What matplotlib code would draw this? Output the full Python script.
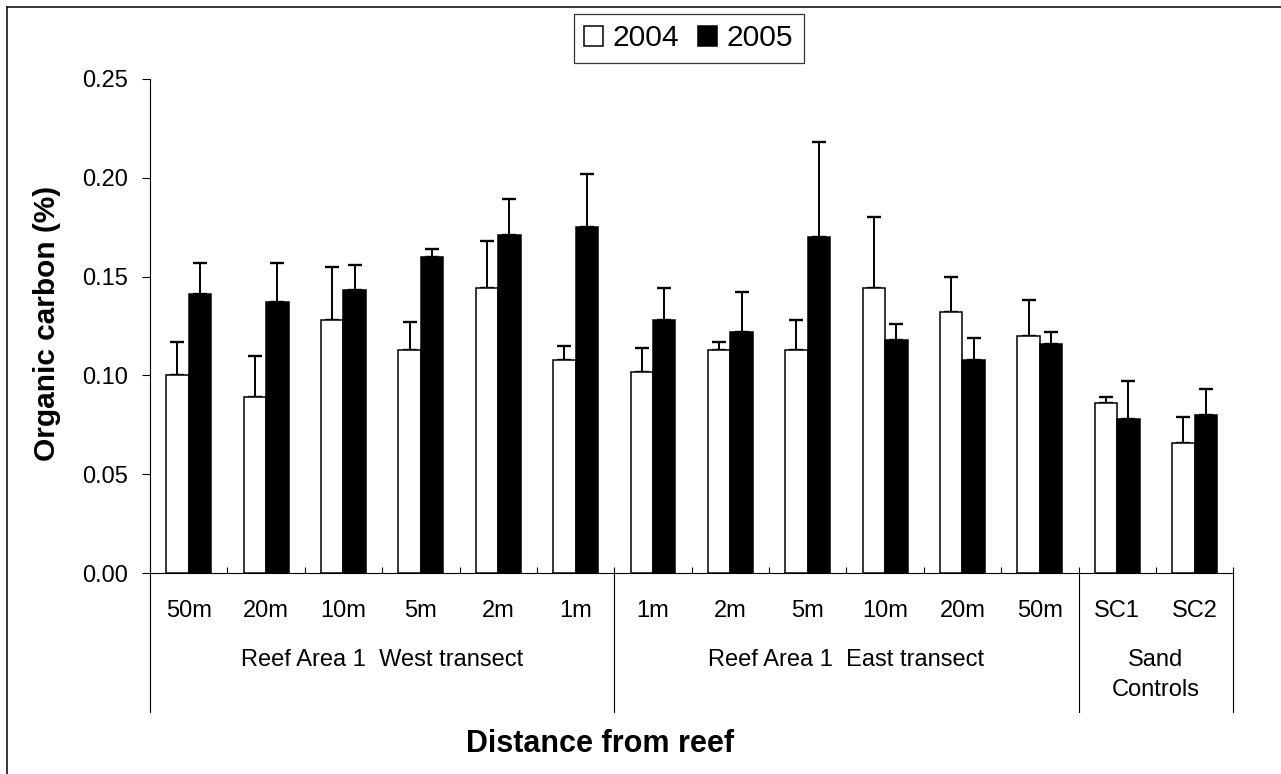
import matplotlib
matplotlib.use("Agg")
import matplotlib.pyplot as plt
import numpy as np
from matplotlib.patches import Patch
from matplotlib.lines import Line2D
from matplotlib.transforms import blended_transform_factory

plt.rcParams['font.family'] = ['Liberation Sans', 'DejaVu Sans']

# Sampling sites (distance from reef) and sand control stations
sites = ["50m", "20m", "10m", "5m", "2m", "1m",
         "1m", "2m", "5m", "10m", "20m", "50m",
         "SC1", "SC2"]

# Mean organic carbon (%) and upper standard error per year
oc_2004 = [0.100, 0.089, 0.128, 0.113, 0.144, 0.108,
           0.102, 0.113, 0.113, 0.144, 0.132, 0.120,
           0.086, 0.066]
err_2004 = [0.017, 0.021, 0.027, 0.014, 0.024, 0.007,
            0.012, 0.004, 0.015, 0.036, 0.018, 0.018,
            0.003, 0.013]
oc_2005 = [0.141, 0.137, 0.143, 0.160, 0.171, 0.175,
           0.128, 0.122, 0.170, 0.118, 0.108, 0.116,
           0.078, 0.080]
err_2005 = [0.016, 0.020, 0.013, 0.004, 0.018, 0.027,
            0.016, 0.020, 0.048, 0.008, 0.011, 0.006,
            0.019, 0.013]

years = ["2004", "2005"]
groups = ["Reef Area 1  West transect", "Reef Area 1  East transect", "Sand\nControls"]
group_spans = [(0, 5), (6, 11), (12, 13)]

W, H = 1281, 774
fig = plt.figure(figsize=(W / 100, H / 100), dpi=100)
ax_left, ax_right, ax_top, ax_bottom = 150, 1233.3, 78.8, 573.3
ax = fig.add_axes([ax_left / W, 1 - ax_bottom / H,
                   (ax_right - ax_left) / W, (ax_bottom - ax_top) / H])

x = np.arange(len(sites))
w = 0.29
ax.bar(x - w / 2, oc_2004, w, color="white", edgecolor="black", linewidth=1.1, zorder=3)
ax.bar(x + w / 2, oc_2005, w, color="black", edgecolor="black", linewidth=1.1, zorder=3)
zeros = np.zeros(len(sites))
ax.errorbar(x - w / 2, oc_2004, yerr=[zeros, err_2004], fmt="none", ecolor="black",
            elinewidth=1.4, capsize=5, capthick=1.7, zorder=2)
ax.errorbar(x + w / 2, oc_2005, yerr=[zeros, err_2005], fmt="none", ecolor="black",
            elinewidth=1.4, capsize=5, capthick=1.7, zorder=2)

ax.set_xlim(-0.5, len(sites) - 0.5)
ax.set_ylim(0, 0.25)
ax.set_yticks(np.arange(0, 0.251, 0.05))
ax.set_yticklabels([f"{v:.2f}" for v in np.arange(0, 0.251, 0.05)])
ax.tick_params(axis="y", direction="out", length=5.5, width=0.8, pad=10, labelsize=17)

ax.set_xticks(x)
ax.set_xticklabels(sites)
ax.tick_params(axis="x", length=0, pad=19, labelsize=17)
ax.set_xticks(np.arange(-0.5, len(sites), 1.0), minor=True)
ax.tick_params(axis="x", which="minor", direction="in", length=4.5, width=0.8)

for side in ("top", "right"):
    ax.spines[side].set_visible(False)
for side in ("left", "bottom"):
    ax.spines[side].set_linewidth(0.8)

# Group separators below the axis and group names
tr = blended_transform_factory(ax.transData, fig.transFigure)
y_axis = 1 - ax_bottom / H
y_end = 1 - 712 / H
for b in (-0.5, 5.5, 11.5, 13.5):
    ax.add_line(Line2D([b, b], [y_axis, y_end], transform=tr, color="black",
                       linewidth=0.8, clip_on=False))
for name, (a, b) in zip(groups, group_spans):
    ax.text((a + b) / 2, 1 - 649 / H, name, transform=tr, ha="center", va="top",
            fontsize=17, linespacing=1.45)

fig.text(600 / W, 1 - 744 / H, "Distance from reef", ha="center", va="center",
         fontsize=22, fontweight="bold")
fig.text(47.5 / W, 1 - 323 / H, "Organic carbon (%)", ha="center", va="center",
         rotation=90, fontsize=21.5, fontweight="bold")

handles = [Patch(facecolor="white", edgecolor="black", linewidth=1.1),
           Patch(facecolor="black", edgecolor="black", linewidth=1.1)]
leg = fig.legend(handles, years, loc="center", ncol=2,
                 bbox_to_anchor=(688.7 / W, 1 - 38.3 / H), fontsize=21.6,
                 frameon=True, fancybox=False, shadow=False,
                 handlelength=0.63, handleheight=0.63, handletextpad=0.33,
                 columnspacing=0.62, borderpad=0.35, borderaxespad=0)
leg.get_frame().set_edgecolor("black")
leg.get_frame().set_linewidth(0.9)

# Border lines along the top and left of the figure
fig.add_artist(Line2D([7 / W, 1], [1 - 7 / H, 1 - 7 / H], transform=fig.transFigure,
                      color="black", linewidth=1.1))
fig.add_artist(Line2D([7 / W, 7 / W], [0, 1 - 7 / H], transform=fig.transFigure,
                      color="black", linewidth=1.1))

fig.savefig("out.png", dpi=100, facecolor="white")
